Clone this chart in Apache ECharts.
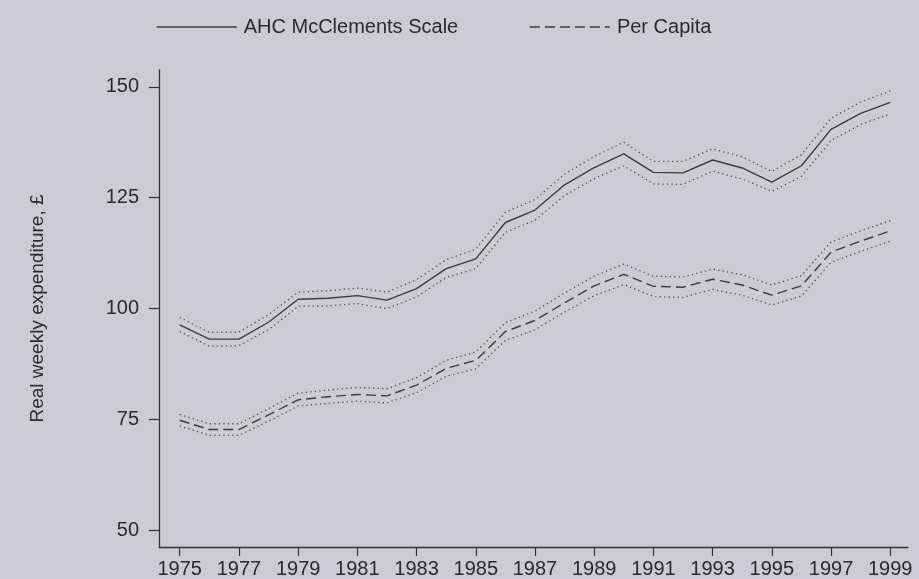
<!DOCTYPE html>
<html>
<head>
<meta charset="utf-8">
<script src="https://cdn.jsdelivr.net/npm/echarts@6/dist/echarts.min.js"></script>
<style>
html,body{margin:0;padding:0;background:#cbcbd1;}
#chart{width:919px;height:579px;}
</style>
</head>
<body>
<div id="chart"></div>
<script>
const years = [1975,1976,1977,1978,1979,1980,1981,1982,1983,1984,1985,1986,1987,1988,1989,1990,1991,1992,1993,1994,1995,1996,1997,1998,1999];
const ahc      = [96.3,93.1,93.1,96.9,102.1,102.3,102.9,101.9,104.5,109.0,111.2,119.4,122.2,127.9,131.8,134.9,130.7,130.6,133.5,131.7,128.5,132.2,140.4,144.0,146.5];
const ahcUpper = [98.0,94.6,94.7,98.6,103.7,104.0,104.6,103.7,106.5,111.0,113.4,121.7,124.6,130.3,134.3,137.5,133.2,133.2,136.0,134.2,130.9,134.7,142.9,146.6,149.1];
const ahcLower = [94.8,91.5,91.6,95.2,100.5,100.6,101.1,100.0,102.6,107.0,109.0,117.2,119.9,125.5,129.3,132.2,128.1,128.0,131.0,129.2,126.4,129.8,137.9,141.5,143.9];
const pc       = [74.8,72.7,72.7,76.0,79.4,80.1,80.6,80.3,82.7,86.5,88.3,94.8,97.3,101.3,105.1,107.7,105.0,104.8,106.6,105.3,103.0,105.1,112.7,115.2,117.5];
const pcUpper  = [76.1,74.0,74.0,77.4,80.9,81.6,82.2,81.9,84.4,88.3,90.2,96.8,99.4,103.5,107.3,110.0,107.3,107.1,108.9,107.6,105.3,107.4,115.0,117.5,119.8];
const pcLower  = [73.5,71.4,71.4,74.6,78.0,78.6,79.1,78.7,81.0,84.7,86.4,92.8,95.2,99.2,102.9,105.4,102.7,102.5,104.3,103.0,100.8,102.8,110.4,112.9,115.2];
const xTicks = [1975,1977,1979,1981,1983,1985,1987,1989,1991,1993,1995,1997,1999];
const yTicks = [50,75,100,125,150];
const seriesNames = ['AHC McClements Scale','Per Capita'];
const yAxisName = 'Real weekly expenditure, £';

const pair = arr => years.map((y,i)=>[y,arr[i]]);
const font = 'Liberation Sans, Arial, sans-serif';
const ink = '#2a2a2e';

const chart = echarts.init(document.getElementById('chart'));
function mainLine(name, arr, type){
  return {name, type:'line', data:pair(arr), symbol:'none', silent:true,
    itemStyle:{color:'#3c3c40'},
    lineStyle:{color:'#3c3c40', width:1.4, type:type}, z:3};
}
function band(arr){
  return {name:'band', type:'line', data:pair(arr), symbol:'none', silent:true,
    lineStyle:{color:'#4a4a4e', width:1.3, type:[1.3,3.2]}, z:2};
}
chart.setOption({
  backgroundColor:'#cbcbd1',
  animation:false,
  textStyle:{fontFamily:font},
  legend:{
    data:seriesNames, left:151, top:12, itemWidth:80, itemHeight:14, itemGap:71,
    itemStyle:{opacity:0},
    lineStyle:{opacity:1, width:1.4},
    textStyle:{fontSize:20, color:ink, fontFamily:font, padding:[0,0,0,2]}
  },
  grid:{left:159, right:11, top:70, bottom:29, containLabel:false},
  xAxis:{
    type:'value', min:1974.3, max:1999.6,
    axisLine:{lineStyle:{color:'#333', width:1.3}},
    axisTick:{show:true, length:9, customValues:xTicks, lineStyle:{color:'#333', width:1.2}},
    axisLabel:{customValues:xTicks, fontSize:20, color:ink, margin:12, fontFamily:font,
      formatter:v=>String(v)},
    splitLine:{show:false}
  },
  yAxis:{
    type:'value', min:46.2, max:153.8,
    name:yAxisName, nameLocation:'middle', nameGap:112, nameRotate:90,
    nameTextStyle:{fontSize:19, color:ink, fontFamily:font},
    axisLine:{show:true, lineStyle:{color:'#333', width:1.3}},
    axisTick:{show:true, length:10, customValues:yTicks, lineStyle:{color:'#333', width:1.2}},
    axisLabel:{customValues:yTicks, fontSize:20, color:ink, margin:20, fontFamily:font},
    splitLine:{show:false}
  },
  series:[
    mainLine(seriesNames[0], ahc, 'solid'),
    band(ahcUpper), band(ahcLower),
    mainLine(seriesNames[1], pc, [10,5]),
    band(pcUpper), band(pcLower)
  ]
});
</script>
</body>
</html>
